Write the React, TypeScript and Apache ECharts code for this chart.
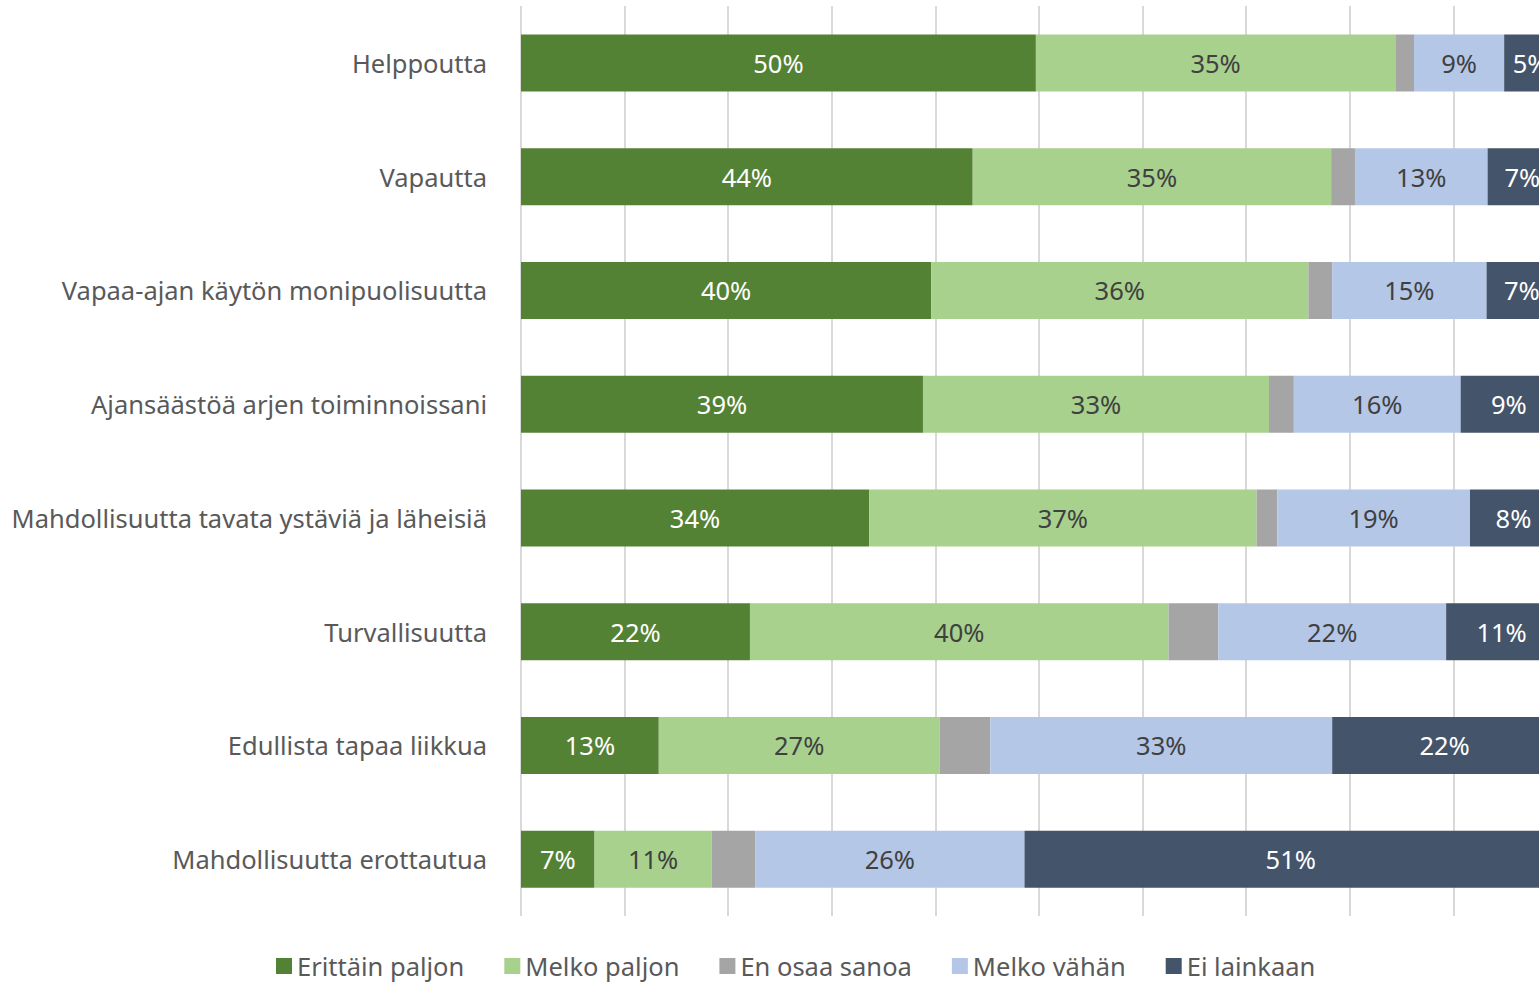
import React, { useEffect, useRef } from "react";
import * as echarts from "echarts";

const categories = [
  "Helppoutta",
  "Vapautta",
  "Vapaa-ajan käytön monipuolisuutta",
  "Ajansäästöä arjen toiminnoissani",
  "Mahdollisuutta tavata ystäviä ja läheisiä",
  "Turvallisuutta",
  "Edullista tapaa liikkua",
  "Mahdollisuutta erottautua",
];

const seriesNames = ["Erittäin paljon", "Melko paljon", "En osaa sanoa", "Melko vähän", "Ei lainkaan"];

const erittainPaljon = [49.7, 43.6, 39.6, 38.8, 33.6, 22.1, 13.3, 7.1];
const melkoPaljon = [34.7, 34.6, 36.4, 33.4, 37.4, 40.4, 27.1, 11.3];
const enOsaaSanoa = [1.8, 2.3, 2.3, 2.4, 2.0, 4.8, 4.9, 4.2];
const melkoVahan = [8.7, 12.8, 14.9, 16.1, 18.6, 22.0, 33.0, 26.0];
const eiLainkaan = [5.1, 6.7, 6.8, 9.3, 8.4, 10.7, 21.7, 51.4];

const values = [erittainPaljon, melkoPaljon, enOsaaSanoa, melkoVahan, eiLainkaan];
const colors = ["#548235", "#A9D18E", "#A5A5A5", "#B4C7E7", "#44546A"];
const labelColors = ["#ffffff", "#404040", "#404040", "#404040", "#ffffff"];
const FONT = "'Noto Sans', sans-serif";
const FS = 25.5;

export default function App() {
  const ref = useRef<HTMLDivElement>(null);
  useEffect(() => {
    if (!ref.current) return;
    const chart = echarts.init(ref.current, undefined, { renderer: "svg" });
    chart.setOption({
      animation: false,
      textStyle: { fontFamily: FONT },
      grid: { left: 521, top: 6, height: 910, width: 1036 },
      xAxis: {
        type: "value",
        min: 0,
        max: 100,
        interval: 10,
        axisLabel: { show: false },
        axisLine: { show: false },
        axisTick: { show: false },
        splitLine: { show: true, lineStyle: { color: "#d9d9d9", width: 2 } },
      },
      yAxis: {
        type: "category",
        inverse: true,
        data: categories,
        axisLine: { show: false },
        axisTick: { show: false },
        axisLabel: { margin: 34, fontSize: FS, color: "#595959", fontFamily: FONT },
      },
      legend: {
        left: 271,
        top: 948,
        itemWidth: 16,
        itemHeight: 16,
        itemGap: 40,
        icon: "rect",
        textStyle: { fontSize: FS, color: "#595959", fontFamily: FONT },
        data: seriesNames,
      },
      series: seriesNames.map((name, i) => ({
        name,
        type: "bar",
        stack: "total",
        barWidth: 57,
        data: values[i],
        itemStyle: { color: colors[i] },
        label: {
          show: i !== 2,
          position: "inside",
          color: labelColors[i],
          fontSize: FS,
          fontFamily: FONT,
          formatter: (p: any) => Math.round(p.value) + "%",
        },
      })),
    });
    return () => chart.dispose();
  }, []);
  return (
    <div style={{ position: "fixed", left: 0, top: 0, width: 1539, height: 985, overflow: "hidden", background: "#fff" }}>
      <div ref={ref} style={{ width: 1600, height: 985 }} />
    </div>
  );
}
